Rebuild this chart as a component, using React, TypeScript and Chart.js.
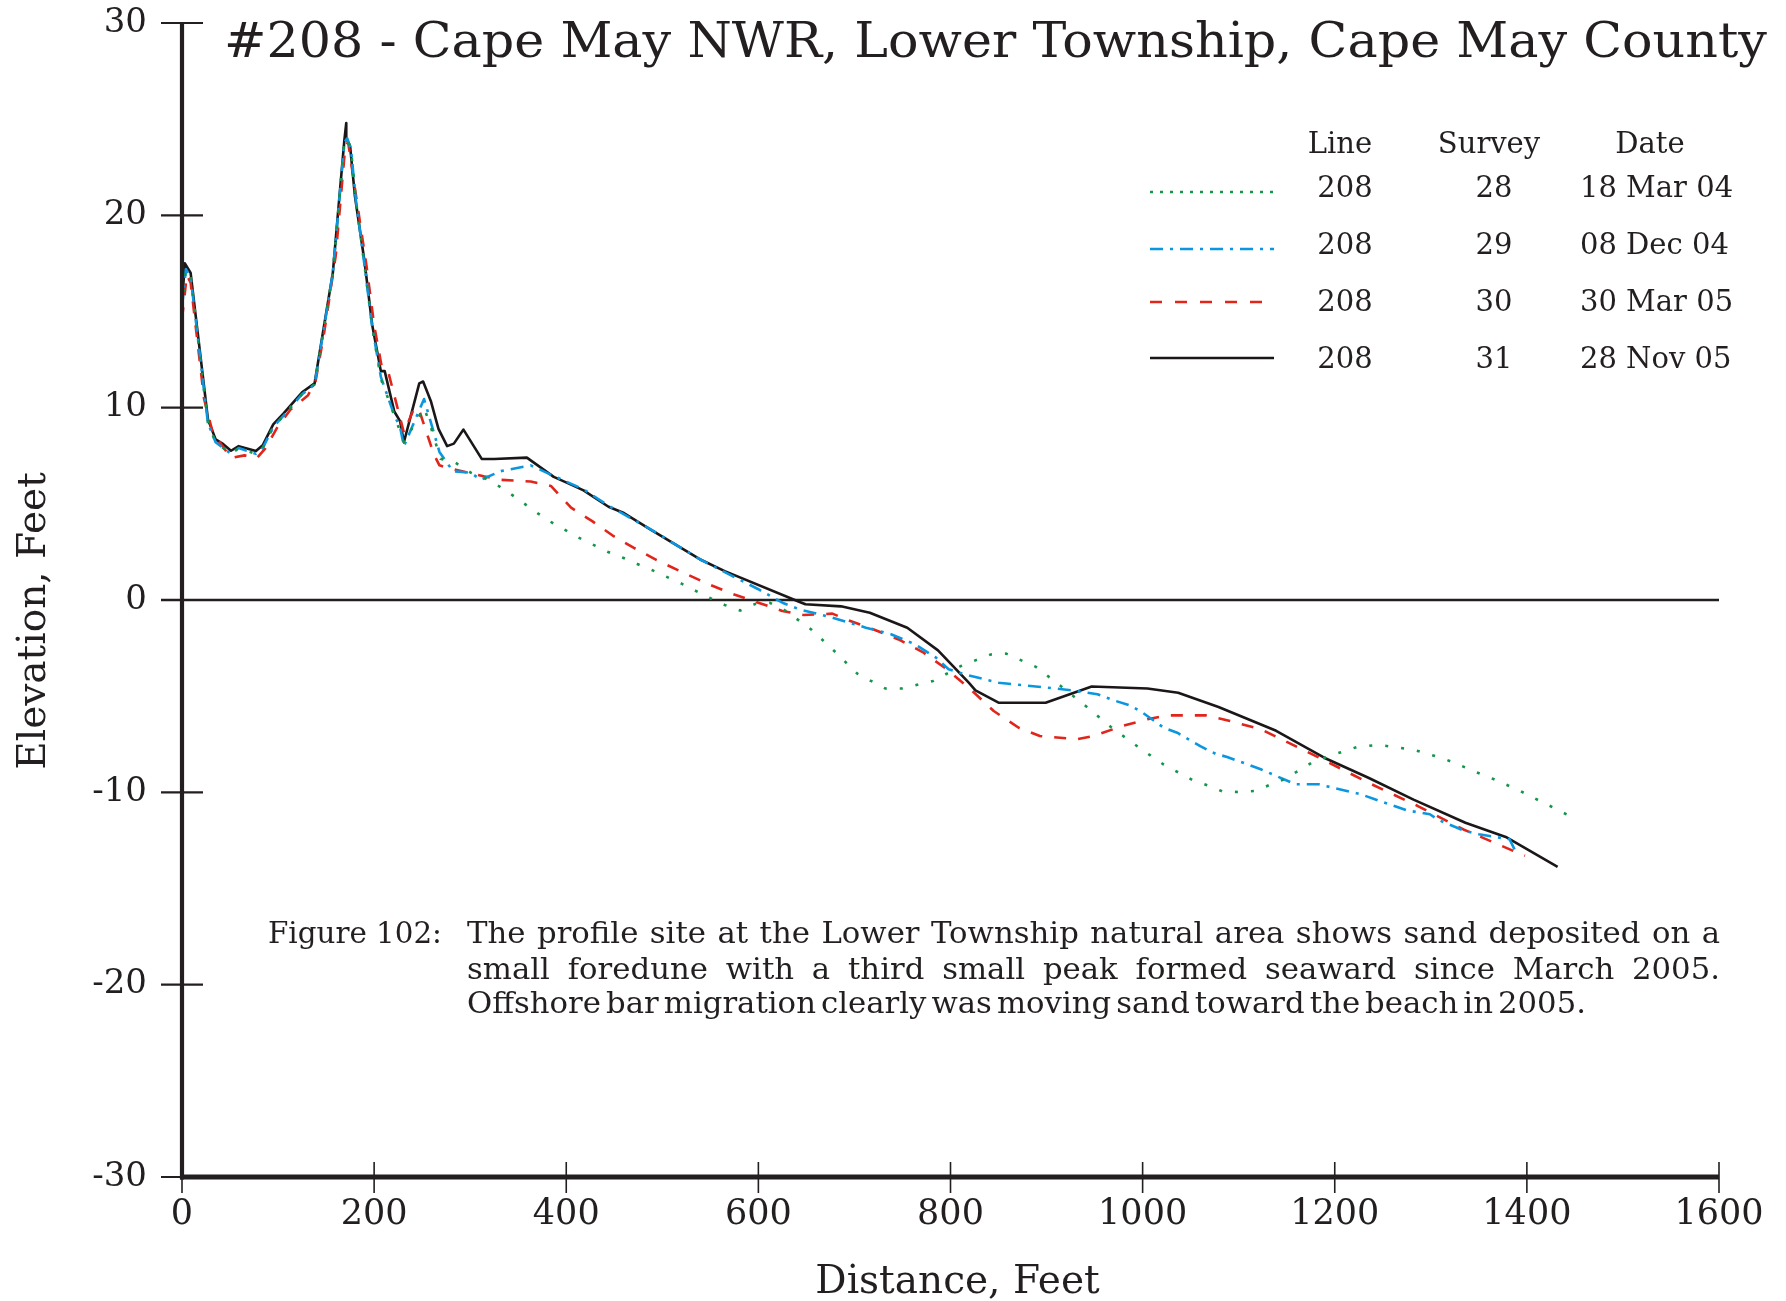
import React, { useEffect, useRef } from "react";
import { Chart, registerables } from "chart.js";

Chart.register(...registerables);

const FONT = "'DejaVu Serif', serif";
const INK = "#231f20";

// Axis tick values
const xTicks = [0, 200, 400, 600, 800, 1000, 1200, 1400, 1600];
const yTicks = [-30, -20, -10, 0, 10, 20, 30];

// Survey 28 — 18 Mar 04 (distance ft, elevation ft)
const survey28: [number, number][] = [
  [0, 15.2], [4, 17.2], [9, 16.8], [27, 9.2], [35, 8.2], [51, 7.6], [59, 7.9], [77, 7.6],
  [84, 7.9], [95, 9.0], [106, 9.6], [125, 10.7], [138, 11.2], [148, 14.2], [157, 17.0],
  [162, 19.8], [169, 23.8], [172, 24.0], [176, 23.4], [181, 20.8], [190, 17.4], [198, 14.2],
  [207, 11.5], [221, 9.6], [231, 8.2], [238, 8.8], [252, 10.0], [259, 9.0], [269, 7.34],
  [284, 7.16], [301, 6.61], [315, 6.34], [328, 5.98], [342, 5.52], [370, 4.52], [384, 4.06],
  [413, 3.24], [427, 2.9], [443, 2.51], [459, 2.2], [474, 1.87], [490, 1.54], [520, 0.85],
  [550, 0.09], [565, -0.26], [581, -0.55], [597, -0.2], [612, -0.15], [628, -0.55],
  [655, -1.53], [679, -2.65], [703, -3.83], [732, -4.6], [749, -4.6], [782, -4.21],
  [811, -3.43], [842, -2.83], [858, -2.79], [889, -3.48], [917, -4.56], [942, -5.56],
  [967, -6.6], [995, -7.63], [1022, -8.56], [1052, -9.36], [1068, -9.64], [1084, -9.97],
  [1100, -9.98], [1117, -9.93], [1132, -9.62], [1147, -9.33], [1162, -8.88], [1176, -8.46],
  [1192, -8.15], [1208, -7.89], [1224, -7.63], [1240, -7.56], [1250, -7.56], [1267, -7.68],
  [1283, -7.8], [1299, -8.03], [1315, -8.28], [1331, -8.6], [1346, -8.93], [1362, -9.24],
  [1377, -9.57], [1393, -9.93], [1408, -10.31], [1423, -10.68], [1438, -11.06], [1453, -11.44],
];

// Survey 29 — 08 Dec 04
const survey29: [number, number][] = [
  [0, 15.2], [4, 17.2], [9, 16.8], [27, 9.2], [35, 8.2], [51, 7.6], [59, 7.9], [77, 7.6],
  [84, 7.9], [95, 9.0], [106, 9.6], [125, 10.7], [138, 11.2], [148, 14.2], [157, 17.0],
  [162, 19.8], [169, 23.8], [172, 24.0], [176, 23.4], [181, 20.8], [190, 17.4], [198, 14.2],
  [207, 11.6], [221, 9.6], [227, 9.0], [231, 8.0], [252, 10.45], [268, 7.7], [282, 6.7],
  [301, 6.61], [311, 6.25], [332, 6.7], [363, 7.0], [387, 6.45], [418, 5.75], [444, 4.9],
  [487, 3.7], [539, 2.12], [565, 1.45], [600, 0.56], [625, -0.14], [643, -0.49], [677, -0.92],
  [712, -1.44], [738, -1.78], [763, -2.3], [785, -3.0], [798, -3.6], [815, -3.87], [850, -4.3],
  [901, -4.56], [927, -4.7], [953, -4.9], [972, -5.25], [988, -5.5], [1000, -5.86],
  [1022, -6.64], [1036, -6.9], [1060, -7.6], [1076, -8.0], [1088, -8.16], [1123, -8.8],
  [1159, -9.58], [1183, -9.58], [1227, -10.1], [1275, -10.94], [1299, -11.14], [1308, -11.44],
  [1334, -11.98], [1350, -12.18], [1382, -12.44], [1388, -13.05],
];

// Survey 30 — 30 Mar 05
const survey30: [number, number][] = [
  [0, 14.6], [5, 16.9], [9, 16.5], [23, 10.45], [32, 8.7], [51, 7.38], [65, 7.52], [78, 7.38],
  [87, 7.9], [99.5, 9.0], [113, 9.9], [131, 10.63], [139, 11.36], [148, 13.9], [160, 17.9],
  [170, 23.6], [173, 23.8], [180, 21.4], [192, 17.4], [200, 14.3], [208, 12.1], [215, 11.8],
  [231, 8.7], [241, 9.9], [246, 10.0], [262, 7.6], [268, 7.0], [282, 6.8], [314, 6.43],
  [332, 6.25], [363, 6.16], [384, 5.93], [405, 4.8], [427, 4.1], [449, 3.33], [470, 2.72],
  [496, 2.03], [522, 1.42], [548, 0.82], [574, 0.3], [600, -0.14], [625, -0.57], [647, -0.78],
  [660, -0.75], [677, -0.71], [694, -1.06], [720, -1.53], [746, -2.05], [772, -2.74],
  [794, -3.52], [819, -4.56], [845, -5.77], [871, -6.64], [893, -7.07], [932, -7.24],
  [949, -7.07], [979, -6.55], [1005, -6.2], [1026, -6.0], [1066, -6.0], [1091, -6.29],
  [1123, -6.72], [1147, -7.3], [1187, -8.28], [1235, -9.5], [1286, -10.7], [1334, -11.93],
  [1366, -12.62], [1398, -13.3],
];

// Survey 31 — 28 Nov 05
const survey31: [number, number][] = [
  [0, 15.5], [3, 17.5], [9, 17.0], [27, 9.4], [35, 8.35], [43, 8.1], [51, 7.76], [59, 8.0],
  [77, 7.75], [84, 8.04], [95, 9.13], [106, 9.72], [125, 10.8], [138, 11.26], [148, 14.3],
  [157, 17.0], [162, 19.9], [169, 23.9], [171, 24.8], [171, 24.0], [175, 23.6], [180, 21.0],
  [190, 17.6], [198, 14.3], [207, 11.9], [211, 11.9], [221, 9.8], [227, 9.3], [231, 8.2],
  [247, 11.26], [251, 11.36], [259, 10.35], [267, 8.9], [276, 8.0], [283, 8.13], [293, 8.86],
  [312, 7.34], [325, 7.33], [359, 7.4], [387, 6.4], [405, 6.0], [418, 5.7], [444, 4.85],
  [460, 4.52], [487, 3.68], [539, 2.12], [565, 1.5], [643, -0.1], [649, -0.22], [686, -0.33],
  [716, -0.66], [755, -1.44], [787, -2.62], [819, -4.3], [826, -4.7], [850, -5.34],
  [899, -5.34], [947, -4.5], [1005, -4.6], [1037, -4.82], [1079, -5.56], [1139, -6.8],
  [1189, -8.2], [1235, -9.24], [1282, -10.38], [1336, -11.58], [1378, -12.32], [1432, -13.87],
];

// Legend table
const legendHeaders = ["Line", "Survey", "Date"];
const legendLine = ["208", "208", "208", "208"];
const legendSurvey = ["28", "29", "30", "31"];
const legendDate = ["18 Mar 04", "08 Dec 04", "30 Mar 05", "28 Nov 05"];

const titleText = "#208 - Cape May NWR, Lower Township, Cape May County";
const xTitle = "Distance, Feet";
const yTitle = "Elevation, Feet";
const captionLabel = "Figure 102:";
const captionLines = [
  "The profile site at the Lower Township natural area shows sand deposited on a",
  "small foredune with a third small peak formed seaward since March 2005.",
  "Offshore bar migration clearly was moving sand toward the beach in 2005.",
];

const seriesStyles = [
  { data: survey28, color: "#13964a", dash: [3, 13], legendDash: [3, 7], width: 2.6, cap: "butt" },
  { data: survey29, color: "#0b96e0", dash: [13, 7, 3, 7], legendDash: [13, 7, 3, 7], width: 2.6, cap: "butt" },
  { data: survey30, color: "#e1251b", dash: [12, 12], legendDash: [12, 13], width: 2.6, cap: "butt" },
  { data: survey31, color: "#1b1718", dash: [], legendDash: [], width: 2.6, cap: "butt" },
];

function drawScaledX(ctx: CanvasRenderingContext2D, text: string, x: number, y: number, width: number) {
  const w = ctx.measureText(text).width;
  ctx.save();
  ctx.translate(x, y);
  ctx.scale(width / w, 1);
  ctx.fillText(text, 0, 0);
  ctx.restore();
}

function drawJustified(ctx: CanvasRenderingContext2D, text: string, x: number, y: number, width: number, squeeze: number) {
  const words = text.split(" ");
  ctx.save();
  ctx.translate(x, y);
  ctx.scale(squeeze, 1);
  const target = width / squeeze;
  const widths = words.map((w) => ctx.measureText(w).width);
  const total = widths.reduce((a, b) => a + b, 0);
  const gap = (target - total) / (words.length - 1);
  let cx = 0;
  words.forEach((w, i) => {
    ctx.fillText(w, cx, 0);
    cx += widths[i] + gap;
  });
  ctx.restore();
}

const decorPlugin = {
  id: "decor",
  beforeDatasetsDraw(chart: any) {
    const { ctx, scales } = chart;
    const x = scales.x;
    const y = scales.y;
    const y0 = y.getPixelForValue(0);
    ctx.save();
    ctx.strokeStyle = INK;
    ctx.lineWidth = 2.5;
    ctx.beginPath();
    ctx.moveTo(x.getPixelForValue(xTicks[0]) - 21, y0);
    ctx.lineTo(x.getPixelForValue(xTicks[xTicks.length - 1]), y0);
    ctx.stroke();
    ctx.restore();
  },
  afterDraw(chart: any) {
    const { ctx, scales } = chart;
    const x = scales.x;
    const y = scales.y;
    const left = x.getPixelForValue(xTicks[0]);
    const right = x.getPixelForValue(xTicks[xTicks.length - 1]);
    const top = y.getPixelForValue(yTicks[yTicks.length - 1]);
    const bottom = y.getPixelForValue(yTicks[0]);
    ctx.save();
    ctx.strokeStyle = INK;
    ctx.fillStyle = INK;
    ctx.lineCap = "butt";
    // y axis
    ctx.lineWidth = 4.2;
    ctx.beginPath();
    ctx.moveTo(left, top);
    ctx.lineTo(left, bottom + 2.5);
    ctx.stroke();
    // x axis
    ctx.lineWidth = 5;
    ctx.beginPath();
    ctx.moveTo(left - 2, bottom);
    ctx.lineTo(right, bottom);
    ctx.stroke();
    // y ticks
    ctx.lineWidth = 2.2;
    yTicks.forEach((v) => {
      const py = y.getPixelForValue(v);
      ctx.beginPath();
      ctx.moveTo(left - 21, py);
      ctx.lineTo(left + 21, py);
      ctx.stroke();
    });
    // x ticks
    ctx.lineWidth = 1.6;
    xTicks.forEach((v) => {
      const px = x.getPixelForValue(v);
      ctx.beginPath();
      ctx.moveTo(px, bottom - 15);
      ctx.lineTo(px, bottom + 16);
      ctx.stroke();
    });

    // title
    ctx.font = `49px ${FONT}`;
    ctx.textAlign = "left";
    ctx.textBaseline = "alphabetic";
    drawScaledX(ctx, titleText, 224, 57, 1543);

    // axis titles
    ctx.font = `39px ${FONT}`;
    ctx.textAlign = "center";
    ctx.fillText(xTitle, (left + right) / 2 + 7, 1293);
    ctx.save();
    ctx.translate(45, 621);
    ctx.rotate(-Math.PI / 2);
    ctx.fillText(yTitle, 0, 0);
    ctx.restore();

    // legend table
    ctx.font = `29px ${FONT}`;
    ctx.textAlign = "center";
    const headerX = [1340, 1489, 1650];
    legendHeaders.forEach((h, i) => ctx.fillText(h, headerX[i], 153));
    const rowY = [197, 254, 311, 368];
    const sampleY = [192, 249, 302, 358];
    seriesStyles.forEach((s, i) => {
      ctx.textAlign = "center";
      ctx.fillStyle = INK;
      ctx.fillText(legendLine[i], 1345, rowY[i]);
      ctx.fillText(legendSurvey[i], 1494, rowY[i]);
      ctx.textAlign = "left";
      ctx.fillText(legendDate[i], 1580, rowY[i]);
      ctx.save();
      ctx.strokeStyle = s.color;
      ctx.lineWidth = s.width;
      ctx.lineCap = s.cap;
      ctx.setLineDash(s.legendDash);
      ctx.beginPath();
      ctx.moveTo(1150, sampleY[i]);
      ctx.lineTo(1274, sampleY[i]);
      ctx.stroke();
      ctx.restore();
    });

    // caption
    ctx.fillStyle = INK;
    ctx.font = `29px ${FONT}`;
    ctx.textAlign = "left";
    drawScaledX(ctx, captionLabel, 268, 943, 174);
    const capBase = [943, 979, 1013];
    const capRight = [1720, 1720, 1586];
    captionLines.forEach((line, i) => {
      drawJustified(ctx, line, 467, capBase[i], capRight[i] - 467, 1.06);
    });
    ctx.restore();
  },
};

export default function App() {
  const canvasRef = useRef<HTMLCanvasElement | null>(null);

  useEffect(() => {
    const canvas = canvasRef.current;
    if (!canvas) return;
    const chart = new Chart(canvas, {
      type: "line",
      data: {
        datasets: seriesStyles.map((s, i) => ({
          label: legendSurvey[i],
          data: s.data.map(([dx, ey]) => ({ x: dx, y: ey })),
          borderColor: s.color,
          borderWidth: s.width,
          borderDash: s.dash,
          borderCapStyle: s.cap as CanvasLineCap,
          borderJoinStyle: "round" as CanvasLineJoin,
          pointRadius: 0,
          fill: false,
          tension: 0,
        })),
      },
      options: {
        animation: false,
        responsive: false,
        maintainAspectRatio: false,
        devicePixelRatio: 1,
        layout: { padding: { top: 23, right: 67, left: 0, bottom: 0 } },
        plugins: {
          legend: { display: false },
          tooltip: { enabled: false },
          title: { display: false },
        },
        scales: {
          x: {
            type: "linear",
            min: xTicks[0],
            max: xTicks[xTicks.length - 1],
            grid: { display: false, drawTicks: false },
            border: { display: false },
            afterBuildTicks: (s: any) => {
              s.ticks = xTicks.map((v) => ({ value: v }));
            },
            afterFit: (s: any) => {
              s.height = 124;
              s.paddingLeft = 0;
              s.paddingRight = 0;
            },
            ticks: {
              autoSkip: false,
              maxRotation: 0,
              padding: 17,
              color: INK,
              font: { family: FONT, size: 35 },
              callback: (v: any) => String(v),
            },
          },
          y: {
            type: "linear",
            min: yTicks[0],
            max: yTicks[yTicks.length - 1],
            grid: { display: false, drawTicks: false },
            border: { display: false },
            afterBuildTicks: (s: any) => {
              s.ticks = yTicks.map((v) => ({ value: v }));
            },
            afterFit: (s: any) => {
              s.width = 182;
              s.paddingTop = 0;
              s.paddingBottom = 0;
            },
            ticks: {
              autoSkip: false,
              padding: 35,
              color: INK,
              font: { family: FONT, size: 34 },
              callback: (v: any) => String(v),
            },
          },
        },
      },
      plugins: [decorPlugin],
    });
    return () => chart.destroy();
  }, []);

  return (
    <div style={{ position: "absolute", left: 0, top: 0, width: 1786, height: 1301, background: "#fff" }}>
      <canvas ref={canvasRef} width={1786} height={1301} style={{ display: "block" }} />
    </div>
  );
}
